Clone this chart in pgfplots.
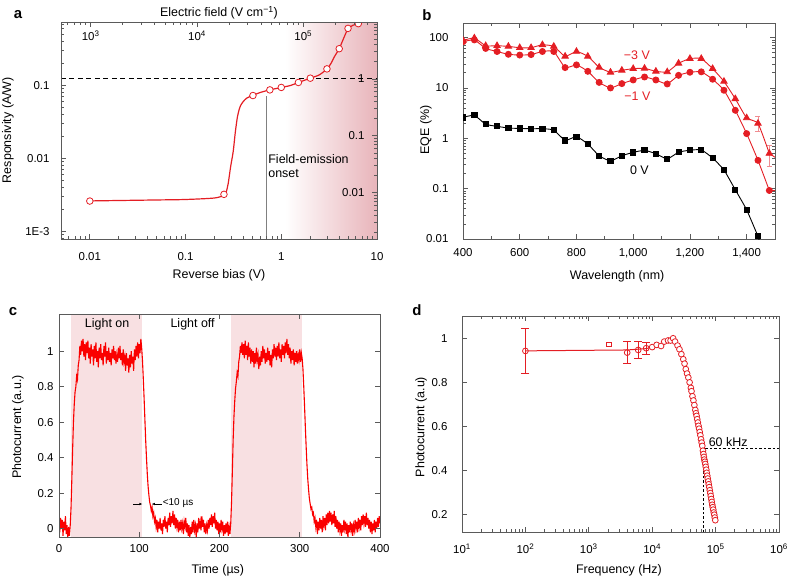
\documentclass[border=0pt]{standalone}
\usepackage{pgfplots}
\pgfplotsset{compat=1.18}
\usepackage{fontspec}
\setmainfont{Liberation Sans}
\usetikzlibrary{arrows.meta}
\definecolor{myred}{RGB}{228,30,36}
\definecolor{sigred}{RGB}{250,0,0}
\definecolor{pinkA}{RGB}{232,180,186}
\definecolor{pinkC}{RGB}{248,224,226}
\definecolor{errred}{RGB}{240,140,145}
\definecolor{axgray}{RGB}{90,90,90}
\newcommand{\tickfont}{\fontsize{11.5}{13}\selectfont}
\newcommand{\labfont}{\fontsize{12.5}{14}\selectfont}
\pgfplotsset{
  every axis/.append style={
    scale only axis,
    anchor=south west,
    axis line style={axgray, line width=0.9bp},
    every tick/.style={axgray, line width=0.7bp},
    major tick length=5bp, minor tick length=3bp,
    tick label style={font=\tickfont},
    label style={font=\labfont},
    /pgf/number format/assume math mode=true,
  },
}
\begin{document}
\begin{tikzpicture}
\path[use as bounding box] (0,0) rectangle (788bp,-578bp);
% ---------------- panel a ----------------
\begin{axis}[at={(61bp,-239bp)}, width=316bp, height=217bp,
  xmode=log, ymode=log, xmin=0.005, xmax=10, ymin=7.8e-4, ymax=0.744,
  xtick={0.01,0.1,1,10}, xticklabels={0.01,0.1,1,10},
  minor xtick={0.005,0.006,0.007,0.008,0.009,0.02,0.03,0.04,0.05,0.06,0.07,0.08,0.09,0.2,0.3,0.4,0.5,0.6,0.7,0.8,0.9,2,3,4,5,6,7,8,9},
  ytick={0.001,0.01,0.1}, yticklabels={1E-3,0.01,0.1},
  minor ytick={0.0008,0.0009,0.002,0.003,0.004,0.005,0.006,0.007,0.008,0.009,0.02,0.03,0.04,0.05,0.06,0.07,0.08,0.09,0.2,0.3,0.4,0.5,0.6,0.7},
  xtick pos=left, ytick pos=left,
  xticklabel style={yshift=-10bp}, yticklabel style={xshift=-8bp},
  axis on top, clip marker paths=true,
  xlabel={Reverse bias (V)}, ylabel={Responsivity (A/W)},
  xlabel style={at={(axis description cs:0.5,-0.166)}, anchor=center},
  ylabel style={at={(axis description cs:-0.168,0.502)}, anchor=center}]
\fill[left color=white, right color=pinkA] (axis cs:1.1,7.8e-4) rectangle (axis cs:10,0.744);
\addplot[black, line width=0.8bp, dash pattern=on 5bp off 3.5bp] coordinates {(0.005,0.1236) (10,0.1236)};
\addplot[gray, line width=1.3bp] coordinates {(0.703,7.8e-4) (0.703,0.0706)};
\addplot[myred, line width=1.2bp, smooth, tension=0.45] coordinates {
(0.01,0.0026) (0.05,0.00268) (0.1,0.00272) (0.2,0.00285) (0.25,0.0031) (0.265,0.0034)
(0.279,0.0045) (0.295,0.0075) (0.315,0.0125) (0.33,0.022) (0.347,0.036) (0.362,0.046)
(0.376,0.053) (0.4,0.06) (0.435,0.067) (0.5,0.0728) (0.6,0.08) (0.76,0.087) (1.0,0.094)
(1.25,0.1) (1.51,0.11) (2.01,0.126) (2.5,0.14) (3.0,0.169) (3.3,0.2) (3.6,0.25)
(4.03,0.32) (4.5,0.45) (4.98,0.6) (5.6,0.67) (6.38,0.706)};
\addplot[only marks, mark=*, mark size=3.3bp, mark options={fill=white, draw=myred, line width=0.8bp}] coordinates {
(0.01,0.00259) (0.252,0.0032) (0.506,0.0728) (0.76,0.087) (1.0,0.094) (1.51,0.11)
(2.01,0.126) (3.0,0.169) (4.03,0.32) (4.98,0.608) (6.38,0.706)};
\node[anchor=north west, align=left, font=\labfont, inner sep=0pt] at (axis cs:0.73,0.0112) {Field-emission\\onset};
\end{axis}
\begin{axis}[at={(61bp,-239bp)}, width=316bp, height=217bp,
  xmode=log, xmin=526, xmax=4.93e5, ymin=0, ymax=1,
  axis x line*=top, axis y line=none,
  xtick={1000,10000,100000},
  minor xtick={600,700,800,900,2000,3000,4000,5000,6000,7000,8000,9000,20000,30000,40000,50000,60000,70000,80000,90000,200000,300000,400000},
  xticklabels={10\textsuperscript{3},10\textsuperscript{4},10\textsuperscript{5}},
  xticklabel style={anchor=north, yshift=-5bp},
  xlabel={Electric field (V cm\textsuperscript{−1})},
  xlabel style={at={(axis description cs:0.5,1.041)}, anchor=center}]
\end{axis}
\begin{axis}[at={(61bp,-239bp)}, width=316bp, height=217bp,
  ymode=log, ymin=0.00154, ymax=10, xmin=0, xmax=1,
  axis y line*=right, axis x line=none,
  ytick={0.01,0.1,1,10}, yticklabels={0.01,0.1,1,{}},
  minor ytick={0.002,0.003,0.004,0.005,0.006,0.007,0.008,0.009,0.02,0.03,0.04,0.05,0.06,0.07,0.08,0.09,0.2,0.3,0.4,0.5,0.6,0.7,0.8,0.9,2,3,4,5,6,7,8,9},
  yticklabel style={anchor=east, xshift=-9bp}]
\node[anchor=west, inner sep=1bp, font=\tickfont] at (rel axis cs:1,1) {10};
\node[rotate=-90, font=\labfont] at (axis description cs:1.032,0.507) {Gain};
\end{axis}
\node[font=\fontsize{15}{16}\selectfont\bfseries] at (18bp,-15bp) {a};
% ---------------- panel b ----------------
\begin{axis}[at={(463bp,-239bp)}, width=312bp, height=216bp,
  ymode=log, xmin=400, xmax=1500, ymin=0.01, ymax=195,
  xtick={400,600,800,1000,1200,1400}, xticklabels={400,600,800,{1,000},{1,200},{1,400}},
  minor x tick num=1,
  ytick={0.01,0.1,1,10,100}, yticklabels={0.01,0.1,1,10,100},
  minor ytick={0.02,0.03,0.04,0.05,0.06,0.07,0.08,0.09,0.2,0.3,0.4,0.5,0.6,0.7,0.8,0.9,2,3,4,5,6,7,8,9,20,30,40,50,60,70,80,90},
  xticklabel style={yshift=-6bp}, yticklabel style={xshift=-11bp},
  clip marker paths=true,
  xlabel={Wavelength (nm)}, ylabel={EQE (\%)},
  xlabel style={at={(axis description cs:0.494,-0.171)}, anchor=center},
  ylabel style={at={(axis description cs:-0.119,0.505)}, anchor=center}]
\addplot[draw=none, mark=none, forget plot, error bars/.cd, y dir=both, y explicit,
  error bar style={errred, line width=0.8bp}, error mark options={rotate=90, errred, mark size=2.5bp, line width=0.8bp}]
  coordinates {(1440,1.98) += (0,0.8) -= (0,0.6) (1480,0.5) += (0,0.21) -= (0,0.22)};
\addplot[myred, line width=0.9bp, smooth, tension=0.3, mark=triangle*, mark size=3.6bp, mark options={fill=myred, draw=myred}] coordinates {
(400,88)(440,98)(480,69)(520,69)(560,67)(600,63)(640,63)(680,72)(720,67)(760,42.5)(800,53)
(840,42.5)(880,25.7)(920,20.5)(960,22.4)(1000,24.2)(1040,24.5)(1080,21.4)(1120,20.8)(1160,30.9)
(1200,38.3)(1240,38.3)(1280,24.2)(1320,13.5)(1360,6.1)(1400,2.54)(1440,1.98)(1480,0.5)};
\addplot[myred, line width=0.9bp] coordinates {(1480,0.5)(1500,0.42)};
\addplot[myred, line width=0.9bp, smooth, tension=0.3, mark=*, mark size=3bp, mark options={fill=myred, draw=myred}] coordinates {
(400,83)(440,90)(480,61)(520,53)(560,46.6)(600,45)(640,46)(680,53)(720,53)(760,25.4)(800,28.7)
(840,21.4)(880,12.9)(920,10)(960,12.2)(1000,14.4)(1040,16.5)(1080,14.4)(1120,12)(1160,17.8)
(1200,20.5)(1240,20.9)(1280,14.9)(1320,9.0)(1360,3.6)(1400,1.24)(1440,0.365)(1480,0.092)};
\addplot[myred, line width=0.9bp] coordinates {(1480,0.092)(1500,0.092)};
\addplot[black, line width=0.9bp, smooth, tension=0.3, mark=square*, mark size=2.6bp, mark options={fill=black, draw=black}] coordinates {
(400,2.6)(440,2.86)(480,1.9)(520,1.73)(560,1.6)(600,1.57)(640,1.55)(680,1.55)(720,1.46)(760,0.91)
(800,1.08)(840,0.77)(880,0.45)(920,0.355)(960,0.45)(1000,0.526)(1040,0.577)(1080,0.495)(1120,0.389)
(1160,0.53)(1200,0.58)(1240,0.59)(1280,0.406)(1320,0.235)(1360,0.095)(1400,0.038)(1440,0.0113)};
\addplot[black, line width=0.9bp] coordinates {(1440,0.0113)(1455,0.006)};
\node[font=\labfont, text=myred] at (axis cs:1013,43.8) {−3 V};
\node[font=\labfont, text=myred] at (axis cs:1015,6.8) {−1 V};
\node[font=\labfont, text=black] at (axis cs:1022,0.228) {0 V};
\end{axis}
\node[font=\fontsize{15}{16}\selectfont\bfseries] at (427bp,-15bp) {b};
% ---------------- panel c ----------------
\begin{axis}[at={(59bp,-537bp)}, width=321bp, height=223bp,
  xmin=0, xmax=400, ymin=-0.047, ymax=1.21,
  xtick={0,100,200,300,400}, ytick={0,0.2,0.4,0.6,0.8,1},
  yticklabels={0,0.2,0.4,0.6,0.8,1},
  xticklabel style={yshift=-4bp}, yticklabel style={xshift=-2bp},
  axis on top,
  xlabel={Time (µs)}, ylabel={Photocurrent (a.u.)},
  xlabel style={at={(axis description cs:0.495,-0.148)}, anchor=center},
  ylabel style={at={(axis description cs:-0.128,0.493)}, anchor=center}]
\fill[pinkC] (axis cs:14.6,-0.047) rectangle (axis cs:103.5,1.21);
\fill[pinkC] (axis cs:214,-0.047) rectangle (axis cs:302.7,1.21);
\addplot[sigred, line width=1.1bp] coordinates {
(0,0.03)(1,-0.02)(2,0.06)(3,0.0)(4,0.05)(5,-0.04)(6,0.04)(7,-0.01)(8,0.07)(9,-0.03)(10,0.02)
(11,-0.05)(12,0.01)(13,-0.04)(14,0.02)(15,0.12)(16,0.28)(17,0.45)(18,0.6)(19,0.7)(20,0.77)
(21,0.8)(22,0.86)(23,0.84)(24,0.92)(25,0.95)(26,1.03)(27,0.98)(28,1.06)(29,1.00)(30,1.07)
(31,0.97)(32,1.04)(33,0.95)(34,1.05)(35,0.99)(36,1.06)(37,0.96)(38,1.02)(39,0.93)(40,1.04)
(41,0.97)(42,1.01)(43,0.92)(44,1.03)(45,0.96)(46,1.05)(47,0.94)(48,1.00)(49,0.91)(50,1.02)
(51,0.96)(52,1.04)(53,0.95)(54,0.99)(55,0.92)(56,1.03)(57,0.97)(58,1.05)(59,0.93)(60,1.0)
(61,0.95)(62,1.02)(63,0.94)(64,0.99)(65,0.92)(66,1.01)(67,0.96)(68,1.03)(69,0.95)(70,1.0)
(71,0.93)(72,0.98)(73,0.94)(74,1.02)(75,0.96)(76,1.03)(77,0.95)(78,0.99)(79,0.92)(80,1.01)
(81,0.94)(82,0.97)(83,0.89)(84,0.99)(85,0.92)(86,0.96)(87,0.88)(88,0.98)(89,0.91)(90,1.0)
(91,0.93)(92,0.97)(93,0.89)(94,1.01)(95,0.95)(96,1.03)(97,0.97)(98,1.05)(99,0.96)(100,1.04)
(101,0.99)(102,1.07)(103,1.02)(104,0.95)(105,0.85)(106,0.74)(107,0.62)(108,0.5)(109,0.4)
(110,0.31)(111,0.24)(112,0.19)(113,0.15)(114,0.13)(115,0.1)(116,0.12)(117,0.07)(118,0.09)
(119,0.04)(120,0.06)(121,0.01)(122,0.05)(123,-0.02)(124,0.04)(125,0.0)(126,0.06)(127,-0.01)
(128,0.03)(129,-0.03)(130,0.05)(131,0.01)(132,0.07)(133,0.0)(134,0.04)(135,-0.02)(136,0.06)
(137,0.02)(138,0.09)(139,0.01)(140,0.07)(141,0.03)(142,0.1)(143,0.02)(144,0.08)(145,0.0)
(146,0.06)(147,0.01)(148,0.05)(149,-0.02)(150,0.04)(151,-0.01)(152,0.05)(153,0.0)(154,0.03)
(155,-0.03)(156,0.04)(157,0.01)(158,0.06)(159,-0.02)(160,0.03)(161,-0.04)(162,0.02)(163,-0.05)
(164,0.01)(165,-0.03)(166,0.04)(167,-0.02)(168,0.05)(169,-0.01)(170,0.02)(171,-0.05)(172,0.03)
(173,-0.02)(174,0.06)(175,0.0)(176,0.04)(177,-0.01)(178,0.07)(179,0.01)(180,0.05)(181,-0.02)
(182,0.03)(183,-0.03)(184,0.02)(185,-0.01)(186,0.05)(187,0.0)(188,0.06)(189,0.02)(190,0.08)
(191,0.01)(192,0.07)(193,0.03)(194,0.09)(195,0.0)(196,0.05)(197,-0.01)(198,0.04)(199,-0.03)
(200,0.03)(201,-0.02)(202,0.05)(203,0.0)(204,0.04)(205,-0.04)(206,0.02)(207,-0.03)(208,0.03)
(209,-0.02)(210,0.04)(211,-0.04)(212,0.01)(213,-0.03)(214,0.03)(215,0.15)(216,0.32)(217,0.5)
(218,0.63)(219,0.72)(220,0.79)(221,0.83)(222,0.88)(223,0.86)(224,0.94)(225,0.97)(226,1.03)
(227,0.99)(228,1.05)(229,0.98)(230,1.04)(231,0.96)(232,1.06)(233,0.98)(234,1.03)(235,0.95)
(236,1.05)(237,0.97)(238,1.02)(239,0.93)(240,1.01)(241,0.94)(242,1.0)(243,0.91)(244,0.99)
(245,0.93)(246,1.02)(247,0.95)(248,0.98)(249,0.9)(250,0.97)(251,0.92)(252,1.0)(253,0.94)
(254,1.03)(255,0.96)(256,1.01)(257,0.93)(258,0.99)(259,0.94)(260,1.02)(261,0.95)(262,1.0)
(263,0.92)(264,0.98)(265,0.91)(266,1.01)(267,0.96)(268,1.04)(269,0.97)(270,1.02)(271,0.95)
(272,1.03)(273,0.97)(274,1.05)(275,0.96)(276,1.01)(277,0.94)(278,1.04)(279,0.98)(280,1.03)
(281,0.96)(282,1.05)(283,0.99)(284,1.07)(285,0.98)(286,1.04)(287,0.96)(288,1.02)(289,0.93)
(290,1.0)(291,0.95)(292,1.01)(293,0.92)(294,0.99)(295,0.94)(296,1.0)(297,0.93)(298,0.98)
(299,0.95)(300,1.01)(301,0.94)(302,0.99)(303,0.96)(304,0.9)(305,0.8)(306,0.69)(307,0.57)
(308,0.46)(309,0.36)(310,0.28)(311,0.22)(312,0.17)(313,0.14)(314,0.11)(315,0.12)(316,0.08)
(317,0.09)(318,0.04)(319,0.06)(320,0.01)(321,0.05)(322,-0.03)(323,0.04)(324,-0.01)(325,0.06)
(326,0.0)(327,0.05)(328,-0.02)(329,0.07)(330,0.02)(331,0.06)(332,-0.01)(333,0.08)(334,0.02)
(335,0.09)(336,0.03)(337,0.1)(338,0.04)(339,0.09)(340,0.02)(341,0.08)(342,0.03)(343,0.1)
(344,0.01)(345,0.07)(346,0.0)(347,0.05)(348,-0.02)(349,0.04)(350,-0.01)(351,0.03)(352,-0.04)
(353,0.02)(354,-0.02)(355,0.05)(356,0.0)(357,0.04)(358,-0.03)(359,0.03)(360,-0.05)(361,0.02)
(362,-0.02)(363,0.04)(364,-0.01)(365,0.03)(366,-0.04)(367,0.02)(368,-0.01)(369,0.05)(370,0.0)
(371,0.04)(372,-0.02)(373,0.06)(374,0.01)(375,0.05)(376,-0.01)(377,0.07)(378,0.02)(379,0.08)
(380,0.03)(381,0.07)(382,0.01)(383,0.09)(384,0.02)(385,0.06)(386,0.0)(387,0.05)(388,-0.02)
(389,0.04)(390,-0.03)(391,0.03)(392,-0.01)(393,0.05)(394,-0.02)(395,0.04)(396,0.0)(397,0.06)
(398,0.01)(399,0.07)(400,0.03)};
\draw[black, line width=0.6bp, -{Latex[length=3bp, width=2.5bp]}] (axis cs:92.6,0.139) -- (axis cs:104,0.139);
\draw[black, line width=0.6bp, -{Latex[length=3bp, width=2.5bp]}] (axis cs:128,0.139) -- (axis cs:115.6,0.139);
\node[anchor=west, inner sep=0pt, font=\fontsize{10}{11}\selectfont] at (axis cs:129.2,0.146) {<10 µs};
\node[font=\labfont] at (axis cs:60,1.153) {Light on};
\node[font=\labfont] at (axis cs:166.5,1.153) {Light off};
\end{axis}
\node[font=\fontsize{15}{16}\selectfont\bfseries] at (13bp,-312bp) {c};
% ---------------- panel d ----------------
\begin{axis}[at={(462bp,-532bp)}, width=317bp, height=216bp,
  xmode=log, xmin=10, xmax=1e6, ymin=0.1215, ymax=1.101,
  xtick={10,100,1000,10000,100000,1000000},
  minor xtick={20,30,40,50,60,70,80,90,200,300,400,500,600,700,800,900,2000,3000,4000,5000,6000,7000,8000,9000,20000,30000,40000,50000,60000,70000,80000,90000,200000,300000,400000,500000,600000,700000,800000,900000},
  xticklabels={10\textsuperscript{1},10\textsuperscript{2},10\textsuperscript{3},10\textsuperscript{4},10\textsuperscript{5},10\textsuperscript{6}},
  ytick={0.2,0.4,0.6,0.8,1}, yticklabels={0.2,0.4,0.6,0.8,1},
  xticklabel style={yshift=-8bp}, yticklabel style={xshift=-11bp},
  xlabel={Frequency (Hz)}, ylabel={Photocurrent (a.u)},
  xlabel style={at={(axis description cs:0.495,-0.176)}, anchor=center},
  ylabel style={at={(axis description cs:-0.129,0.486)}, anchor=center}]
\addplot[black, line width=0.7bp, dash pattern=on 2.5bp off 2bp] coordinates {(63800,0.1215)(63800,0.5)(1e6,0.5)};
\addplot[myred, line width=1bp] coordinates {
(100,0.943)(4000,0.947)(8000,0.953)(10000,0.96)(11749,0.97)(13804,0.965)(15488,0.985)(17783,0.99)
(19498,0.99)(21380,1.0)(22909,0.985)(25119,0.967)(26915,0.95)(28840,0.928)(30903,0.905)
(32359,0.885)(33884,0.86)(35481,0.84)(37154,0.822)(38905,0.8)(40738,0.775)(41687,0.76)
(43152,0.737)(44668,0.718)(46238,0.697)(47863,0.675)(48978,0.66)(50119,0.648)(51286,0.633)
(52481,0.618)(53703,0.603)(54954,0.59)(56234,0.575)(57544,0.56)(58884,0.542)(60256,0.527)
(61660,0.512)(63096,0.49)(64269,0.475)(65313,0.462)(66374,0.45)(67608,0.44)(68707,0.43)
(69984,0.417)(71285,0.404)(72444,0.39)(73790,0.377)(75162,0.364)(76560,0.351)(77983,0.338)
(79433,0.325)(80910,0.311)(82414,0.298)(83946,0.285)(85507,0.271)(87096,0.258)(88512,0.245)
(90157,0.234)(91833,0.223)(93541,0.21)(95280,0.2)(97051,0.187)(98855,0.175)};
\addplot[only marks, mark=o, mark size=2.9bp, mark options={myred, fill=white, line width=0.8bp},
  error bars/.cd, y dir=both, y explicit,
  error bar style={myred, line width=1bp}, error mark options={rotate=90, myred, mark size=4bp, line width=1bp}]
  coordinates {(100,0.9426) +- (0,0.104) (4030,0.935) +- (0,0.05) (6010,0.947) +- (0,0.04) (8035,0.955) +- (0,0.027)};
\addplot[only marks, mark=square, mark size=2.3bp, mark options={myred, line width=0.8bp}] coordinates {(2070,0.973)};
\addplot[only marks, mark=*, mark size=2.9bp, mark options={draw=myred, fill=white, line width=0.8bp}] coordinates {
(10000,0.96)(11749,0.97)(13804,0.965)(15488,0.985)(17783,0.99)
(19498,0.99)(21380,1.0)(22909,0.985)(25119,0.967)(26915,0.95)(28840,0.928)(30903,0.905)
(32359,0.885)(33884,0.86)(35481,0.84)(37154,0.822)(38905,0.8)(40738,0.775)(41687,0.76)
(43152,0.737)(44668,0.718)(46238,0.697)(47863,0.675)(48978,0.66)(50119,0.648)(51286,0.633)
(52481,0.618)(53703,0.603)(54954,0.59)(56234,0.575)(57544,0.56)(58884,0.542)(60256,0.527)
(61660,0.512)(63096,0.49)(64269,0.475)(65313,0.462)(66374,0.45)(67608,0.44)(68707,0.43)
(69984,0.417)(71285,0.404)(72444,0.39)(73790,0.377)(75162,0.364)(76560,0.351)(77983,0.338)
(79433,0.325)(80910,0.311)(82414,0.298)(83946,0.285)(85507,0.271)(87096,0.258)(88512,0.245)
(90157,0.234)(91833,0.223)(93541,0.21)(95280,0.2)(97051,0.187)(98855,0.175)};
\node[anchor=base west, inner sep=0pt, font=\labfont] at (axis cs:77500,0.51) {60 kHz};
\end{axis}
\node[font=\fontsize{15}{16}\selectfont\bfseries] at (417bp,-310bp) {d};
\end{tikzpicture}
\end{document}
